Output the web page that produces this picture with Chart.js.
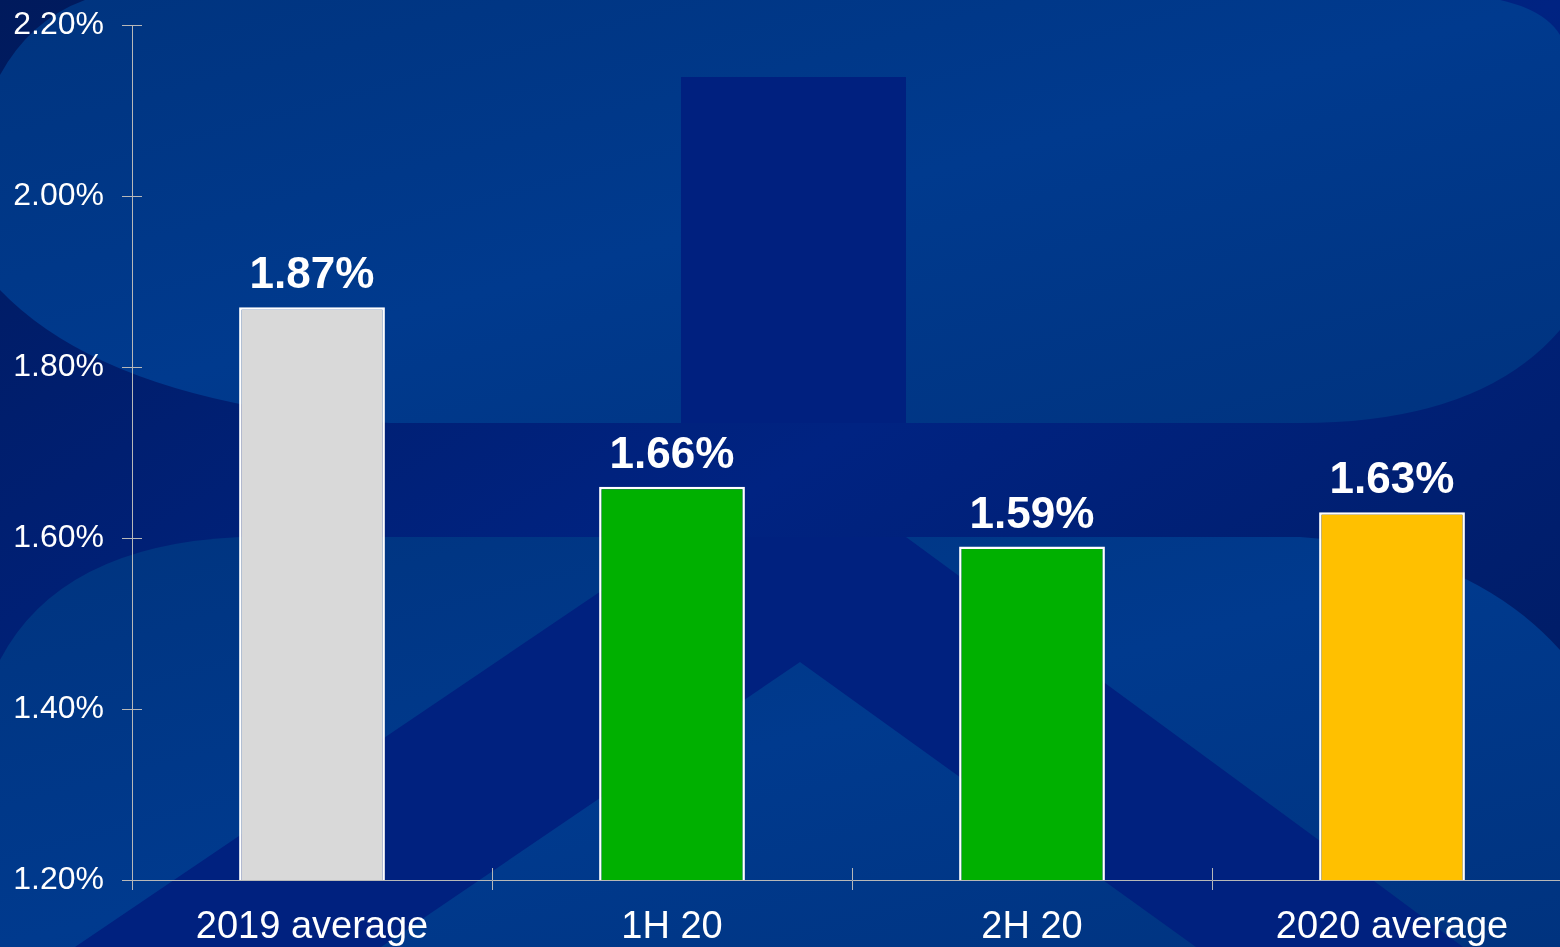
<!DOCTYPE html>
<html>
<head>
<meta charset="utf-8">
<script src="https://cdn.jsdelivr.net/npm/chart.js@4/dist/chart.umd.min.js"></script>
<style>
  html, body { margin: 0; padding: 0; width: 1560px; height: 947px; overflow: hidden; background: #00237f; }
  #bg { position: absolute; left: 0; top: 0; }
  #wrap { position: absolute; left: 0; top: 0; width: 1572px; height: 947px; }
</style>
</head>
<body>
<svg id="bg" width="1560" height="947" viewBox="0 0 1560 947">
  <defs>
    <linearGradient id="base" x1="0" y1="0" x2="1" y2="1">
      <stop offset="0" stop-color="#001a5c"/>
      <stop offset="0.5" stop-color="#002382"/>
      <stop offset="1" stop-color="#001a5c"/>
    </linearGradient>
    <linearGradient id="light" x1="0" y1="0" x2="1" y2="1">
      <stop offset="0" stop-color="#00347f"/>
      <stop offset="0.5" stop-color="#003a8e"/>
      <stop offset="1" stop-color="#00337f"/>
    </linearGradient>
  </defs>
  <rect width="1560" height="947" fill="url(#base)"/>
  <path d="M0,75 Q30,20 85,0 L1500,0 Q1545,10 1560,35 L1560,330 Q1480,423 1300,423 L390,423 Q110,405 0,290 Z" fill="url(#light)"/>
  <rect x="681" y="77" width="225" height="346" fill="#00207f"/>
  <path d="M0,660 Q60,545 240,537 L1300,537 Q1470,550 1560,650 L1560,947 L0,947 Z" fill="url(#light)"/>
  <path d="M681,537 L906,537 L1320,841 L1463,947 L1196,947 L800,662 L381,947 L75,947 Z" fill="#00217f"/>
</svg>
<div id="wrap"><canvas id="myChart"></canvas></div>
<script>
const CHART = document.getElementById("myChart");

var labels = ["2019 average", "1H 20", "2H 20", "2020 average"];
var values = [1.87, 1.66, 1.59, 1.63];
var barColors = ['#d9d9d9', '#00b000', '#00b000', '#ffc000'];
var yTicks = [1.2, 1.4, 1.6, 1.8, 2.0, 2.2];

Chart.defaults.font.family = "'Liberation Sans', Arial, sans-serif";
Chart.defaults.color = '#ffffff';

// value labels above the bars
const valueLabels = {
  id: 'valueLabels',
  afterDatasetsDraw(chart) {
    const ctx = chart.ctx;
    const meta = chart.getDatasetMeta(0);
    ctx.save();
    ctx.font = "bold 44px 'Liberation Sans', Arial, sans-serif";
    ctx.fillStyle = '#ffffff';
    ctx.textAlign = 'center';
    ctx.textBaseline = 'alphabetic';
    meta.data.forEach(function (bar, i) {
      ctx.fillText(values[i].toFixed(2) + '%', bar.x, bar.y - 19);
    });
    ctx.restore();
  }
};

// small tick marks crossing into the plot, like the original
const crossTicks = {
  id: 'crossTicks',
  afterDraw(chart) {
    const ctx = chart.ctx;
    const x = chart.scales.x, y = chart.scales.y;
    ctx.save();
    ctx.strokeStyle = '#b8b8b8';
    ctx.lineWidth = 1;
    ctx.beginPath();
    y.ticks.forEach(function (t) {
      const py = Math.round(y.getPixelForValue(t.value)) + 0.5;
      ctx.moveTo(x.left, py);
      ctx.lineTo(x.left + 10, py);
    });
    for (let i = 1; i < labels.length; i++) {
      const px = Math.round((x.getPixelForValue(i - 1) + x.getPixelForValue(i)) / 2) + 0.5;
      ctx.moveTo(px, y.bottom);
      ctx.lineTo(px, y.bottom - 12);
    }
    ctx.stroke();
    ctx.restore();
  }
};

let myChart = new Chart(CHART, {
  type: 'bar',
  data: {
    labels: labels,
    datasets: [{
      data: values,
      backgroundColor: barColors,
      borderColor: '#ffffff',
      borderWidth: 2.5,
      borderSkipped: false,
      barPercentage: 0.405,
      categoryPercentage: 1.0
    }]
  },
  options: {
    responsive: true,
    maintainAspectRatio: false,
    animation: false,
    layout: { padding: { top: 25, left: 0, right: 0, bottom: 0 } },
    plugins: {
      legend: { display: false },
      tooltip: { enabled: false }
    },
    scales: {
      x: {
        afterFit: function (s) { s.height = 67; },
        grid: { drawOnChartArea: false, color: '#b8b8b8', tickLength: 10, offset: true },
        border: { color: '#b8b8b8', width: 1 },
        ticks: { color: '#ffffff', font: { size: 38 }, padding: 15, maxRotation: 0 }
      },
      y: {
        min: 1.2,
        max: 2.2,
        afterFit: function (s) { s.width = 132; s.paddingTop = 0; s.paddingBottom = 0; },
        afterBuildTicks: function (s) { s.ticks = yTicks.map(function (v) { return { value: v }; }); },
        grid: { drawOnChartArea: false, color: '#b8b8b8', tickLength: 10 },
        border: { color: '#b8b8b8', width: 1 },
        ticks: {
          color: '#ffffff',
          font: { size: 32 },
          padding: 18,
          callback: function (v) { return v.toFixed(2) + '%'; }
        }
      }
    }
  },
  plugins: [valueLabels, crossTicks]
});
</script>
</body>
</html>
